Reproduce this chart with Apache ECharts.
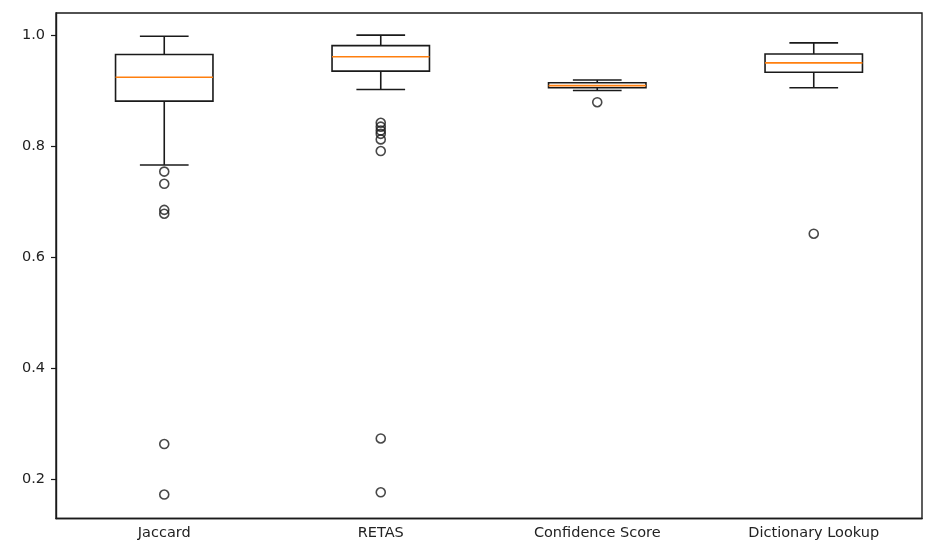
<!DOCTYPE html>
<html>
<head>
<meta charset="utf-8">
<script src="https://cdn.jsdelivr.net/npm/echarts@6/dist/echarts.min.js"></script>
<style>
  html, body { margin: 0; padding: 0; background: #fff; }
  #chart { width: 925px; height: 545px; }
</style>
</head>
<body>
<div id="chart"></div>
<script>
// Method names along the x axis
const categories = ['Jaccard', 'RETAS', 'Confidence Score', 'Dictionary Lookup'];

// Five-number summaries per method
const lowerWhisker = [0.766, 0.902, 0.900, 0.905];
const q1           = [0.881, 0.935, 0.905, 0.933];
const median       = [0.924, 0.961, 0.909, 0.950];
const q3           = [0.965, 0.981, 0.914, 0.966];
const upperWhisker = [0.998, 1.000, 0.919, 0.986];

// Points beyond the whiskers
const jaccardOutliers    = [0.754, 0.732, 0.685, 0.678, 0.263, 0.172];
const retasOutliers      = [0.842, 0.835, 0.828, 0.822, 0.812, 0.791, 0.273, 0.176];
const confidenceOutliers = [0.879];
const dictionaryOutliers = [0.642];

// Y tick labels
const yTicks = [0.2, 0.4, 0.6, 0.8, 1.0];

const outlierGroups = [jaccardOutliers, retasOutliers, confidenceOutliers, dictionaryOutliers];
const outlierPoints = [];
outlierGroups.forEach((grp, i) => grp.forEach(v => outlierPoints.push([i, v])));

const boxData = categories.map((c, i) => [i, lowerWhisker[i], q1[i], median[i], q3[i], upperWhisker[i]]);

const LINE = '#1a1a1a';
const chart = echarts.init(document.getElementById('chart'), null, { renderer: 'canvas' });

function renderBox(params, api) {
  const idx = api.value(0);
  const band = api.size([1, 0])[0];
  const halfBox = band * 0.45 / 2;
  const halfCap = halfBox / 2;
  const pLo = api.coord([idx, api.value(1)]);
  const pQ1 = api.coord([idx, api.value(2)]);
  const pMed = api.coord([idx, api.value(3)]);
  const pQ3 = api.coord([idx, api.value(4)]);
  const pHi = api.coord([idx, api.value(5)]);
  const x = pMed[0];
  const stroke = { stroke: LINE, lineWidth: 1.6, fill: null };
  return {
    type: 'group',
    children: [
      { type: 'line', shape: { x1: x, y1: pQ1[1], x2: x, y2: pLo[1] }, style: stroke },
      { type: 'line', shape: { x1: x, y1: pQ3[1], x2: x, y2: pHi[1] }, style: stroke },
      { type: 'line', shape: { x1: x - halfCap, y1: pLo[1], x2: x + halfCap, y2: pLo[1] }, style: stroke },
      { type: 'line', shape: { x1: x - halfCap, y1: pHi[1], x2: x + halfCap, y2: pHi[1] }, style: stroke },
      { type: 'rect', shape: { x: x - halfBox, y: pQ3[1], width: halfBox * 2, height: pQ1[1] - pQ3[1] }, style: stroke },
      { type: 'line', shape: { x1: x - halfBox, y1: pMed[1], x2: x + halfBox, y2: pMed[1] },
        style: { stroke: '#ff7f0e', lineWidth: 1.6 } }
    ]
  };
}

chart.setOption({
  animation: false,
  backgroundColor: '#fff',
  textStyle: { fontFamily: 'DejaVu Sans' },
  grid: {
    left: 56, right: 3, top: 13, bottom: 26.5,
    show: true, borderColor: LINE, borderWidth: 1.4, backgroundColor: 'transparent'
  },
  xAxis: {
    type: 'category',
    data: categories,
    boundaryGap: true,
    axisLine: { lineStyle: { color: LINE, width: 1.4 } },
    axisTick: { alignWithLabel: true, length: 5, lineStyle: { color: LINE, width: 1.2 } },
    axisLabel: { color: '#222', fontSize: 14.5, margin: 7, fontFamily: 'DejaVu Sans' },
    splitLine: { show: false }
  },
  yAxis: {
    type: 'value',
    min: 0.1288,
    max: 1.0398,
    axisLine: { show: true, lineStyle: { color: LINE, width: 1.4 } },
    axisTick: { show: true, length: 5, lineStyle: { color: LINE, width: 1.2 }, customValues: yTicks },
    axisLabel: {
      color: '#222', fontSize: 14.5, margin: 11, fontFamily: 'DejaVu Sans',
      customValues: yTicks,
      formatter: v => v.toFixed(1)
    },
    splitLine: { show: false }
  },
  series: [
    {
      type: 'custom',
      renderItem: renderBox,
      data: boxData,
      encode: { x: 0, y: [1, 2, 3, 4, 5] },
      z: 3
    },
    {
      type: 'scatter',
      data: outlierPoints,
      symbol: 'circle',
      symbolSize: 9,
      itemStyle: { color: 'rgba(0,0,0,0)', borderColor: LINE, borderWidth: 1.6 },
      z: 4
    }
  ]
});
</script>
</body>
</html>
